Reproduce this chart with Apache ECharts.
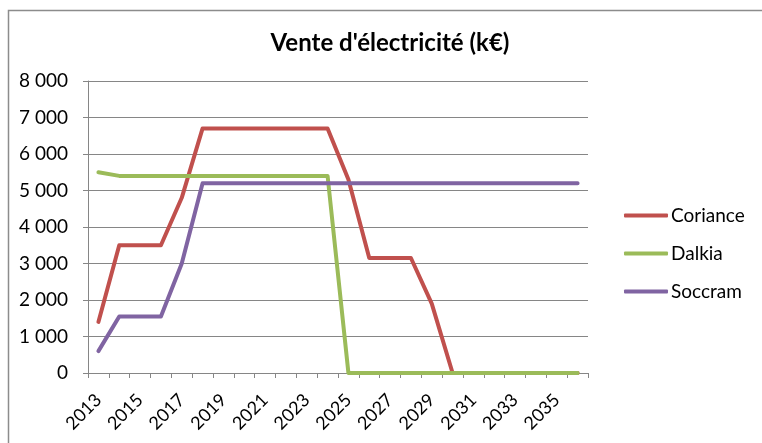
<!DOCTYPE html>
<html><head><meta charset="utf-8">
<script src="https://cdn.jsdelivr.net/npm/echarts@6/dist/echarts.min.js"></script>
<style>html,body{margin:0;padding:0;background:#fff}#c{width:762px;height:443px}</style>
</head><body><div id="c"></div>
<script>
const years = ['2013','2014','2015','2016','2017','2018','2019','2020','2021','2022','2023','2024','2025','2026','2027','2028','2029','2030','2031','2032','2033','2034','2035','2036'];
const coriance = [1400,3500,3500,3500,4800,6700,6700,6700,6700,6700,6700,6700,5300,3150,3150,3150,1900,0,0,0,0,0,0,0];
const dalkia = [5500,5400,5400,5400,5400,5400,5400,5400,5400,5400,5400,5400,0,0,0,0,0,0,0,0,0,0,0,0];
const soccram = [600,1550,1550,1550,3000,5200,5200,5200,5200,5200,5200,5200,5200,5200,5200,5200,5200,5200,5200,5200,5200,5200,5200,5200];
const titleText = "Vente d'électricité (k€)";
const FONT = 'Lato';
const chart = echarts.init(document.getElementById('c'), null, {renderer:'canvas'});
const mk = (name, data, color) => ({name, type:'line', data, symbol:'none', lineStyle:{width:4, color, cap:'round', join:'round'}, itemStyle:{color}, animation:false});
chart.setOption({
  animation:false,
  graphic:[{type:'rect', shape:{x:8.5, y:10.5, width:800, height:500}, style:{fill:'none', stroke:'#8c8c8c', lineWidth:1.5}, silent:true}],
  title:{text:titleText, left:390, textAlign:'center', top:31, padding:0, textStyle:{fontFamily:FONT, fontWeight:'bold', fontSize:24, color:'#000'}},
  legend:{orient:'vertical', left:624, top:206, padding:0, itemWidth:44, itemHeight:4, itemGap:19, icon:'roundRect',
    textStyle:{fontFamily:FONT, fontSize:19, color:'#000', padding:[0,0,0,-2]}, data:['Coriance','Dalkia','Soccram']},
  grid:{left:88, right:174, top:81, bottom:70, containLabel:false},
  xAxis:{type:'category', data:years, boundaryGap:true,
    axisLine:{lineStyle:{color:'#868686', width:1}},
    axisTick:{show:true, interval:0, length:5, lineStyle:{color:'#868686'}},
    axisLabel:{interval:1, rotate:45, fontFamily:FONT, fontSize:18, color:'#000', margin:24, padding:[26,0,0,0]},
    splitLine:{show:false}},
  yAxis:{type:'value', min:0, max:8000, interval:1000,
    axisLine:{show:true, lineStyle:{color:'#868686', width:1}},
    axisTick:{show:true, length:5, lineStyle:{color:'#868686'}},
    axisLabel:{fontFamily:FONT, fontSize:19, color:'#000', margin:20,
      formatter:v => String(v).replace(/\B(?=(\d{3})+(?!\d))/g,' ')},
    splitLine:{show:true, lineStyle:{color:'#868686', width:1}}},
  series:[mk('Coriance', coriance, '#C0504D'), mk('Dalkia', dalkia, '#9BBB59'), mk('Soccram', soccram, '#8064A2')]
});
</script></body></html>
